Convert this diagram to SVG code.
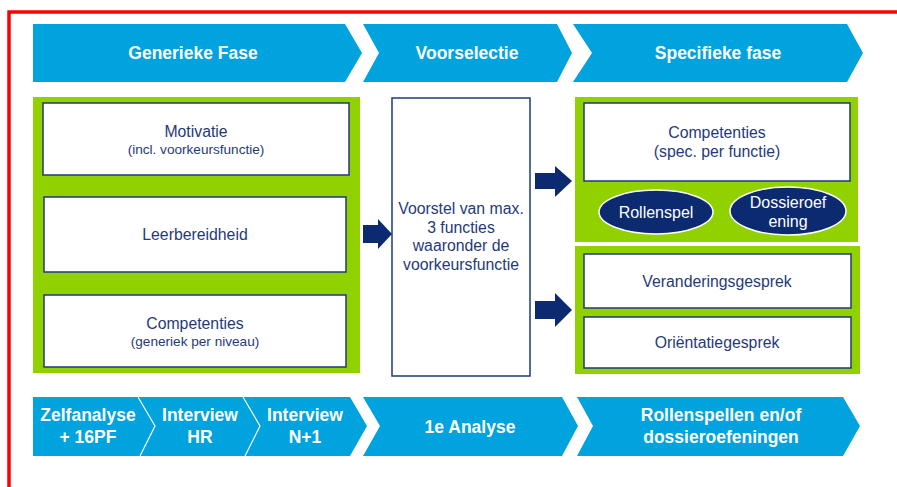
<svg xmlns="http://www.w3.org/2000/svg" width="897" height="487" viewBox="0 0 897 487">
<style>
.chev{fill:#00A3DD}
.ct{font-family:"Liberation Sans",Arial,sans-serif;font-weight:bold;font-size:17.5px;fill:#fff;text-anchor:middle}
.green{fill:#92D100}
.box{fill:#fff;stroke:#1F3A7A;stroke-width:1.5}
.bt{font-family:"Liberation Sans",Arial,sans-serif;font-size:15.8px;fill:#1F3A7A;text-anchor:middle}
.bs{font-family:"Liberation Sans",Arial,sans-serif;font-size:13.6px;fill:#1F3A7A;text-anchor:middle}
.ell{fill:#0B2A6F;stroke:#fff;stroke-width:1.5}
.et{font-family:"Liberation Sans",Arial,sans-serif;font-size:16px;fill:#fff;text-anchor:middle}
.arr{fill:#0B2A6F}
.div{fill:none;stroke:#fff;stroke-width:1.2}
</style>
<rect width="897" height="487" fill="#fff"/>
<path d="M9 487 V12 H897" fill="none" stroke="#FF0000" stroke-width="3.5"/>

<g id="top-generieke">
<polygon class="chev" points="33,24 345,24 362,53 345,82 33,82"/>
<text class="ct" x="193" y="59">Generieke Fase</text>
</g>
<g id="top-voorselectie">
<polygon class="chev" points="363,24 557,24 572,53 557,82 363,82 379,53"/>
<text class="ct" x="467" y="59">Voorselectie</text>
</g>
<g id="top-specifieke">
<polygon class="chev" points="573,24 847,24 863,53 847,82 573,82 592,53"/>
<text class="ct" x="718" y="59">Specifieke fase</text>
</g>

<g id="generieke-panel">
<rect class="green" x="33" y="97" width="327" height="276"/>
</g>
<g id="motivatie">
<rect class="box" x="43" y="103" width="306" height="72"/>
<text class="bt" x="196" y="137">Motivatie</text>
<text class="bs" x="196" y="154">(incl. voorkeursfunctie)</text>
</g>
<g id="leerbereidheid">
<rect class="box" x="44" y="197" width="302" height="75"/>
<text class="bt" x="195" y="240">Leerbereidheid</text>
</g>
<g id="competenties-gen">
<rect class="box" x="44" y="295" width="302" height="72"/>
<text class="bt" x="195" y="329">Competenties</text>
<text class="bs" x="195" y="346">(generiek  per niveau)</text>
</g>

<g id="voorstel">
<rect class="box" x="392" y="98" width="138" height="278"/>
<text class="bt" x="461" y="214">Voorstel van max.</text>
<text class="bt" x="461" y="233">3 functies</text>
<text class="bt" x="461" y="251">waaronder de</text>
<text class="bt" x="461" y="270">voorkeursfunctie</text>
</g>

<g id="specifiek-panel-top">
<rect class="green" x="575" y="97" width="283" height="145"/>
</g>
<g id="competenties-spec">
<rect class="box" x="584" y="103" width="266" height="78"/>
<text class="bt" x="717" y="138">Competenties</text>
<text class="bt" x="717" y="157">(spec. per functie)</text>
</g>
<g id="rollenspel">
<ellipse class="ell" cx="656" cy="212" rx="57" ry="22"/>
<text class="et" x="656" y="218">Rollenspel</text>
</g>
<g id="dossieroefening">
<ellipse class="ell" cx="788" cy="211" rx="58" ry="24"/>
<text class="et" x="788" y="208">Dossieroef</text>
<text class="et" x="788" y="227">ening</text>
</g>

<g id="specifiek-panel-bottom">
<rect class="green" x="575" y="246" width="285" height="128"/>
</g>
<g id="veranderingsgesprek">
<rect class="box" x="584" y="254" width="267" height="54"/>
<text class="bt" x="717" y="287">Veranderingsgesprek</text>
</g>
<g id="orientatiegesprek">
<rect class="box" x="584" y="317" width="267" height="51"/>
<text class="bt" x="717" y="348">Oriëntatiegesprek</text>
</g>

<g id="connectors">
<polygon class="arr" points="363,225 378,225 378,219 392,234 378,249 378,243 363,243"/>
<polygon class="arr" points="535,173 555,173 555,166 572,181 555,197 555,189 535,189"/>
<polygon class="arr" points="535,301 555,301 555,293 572,310 555,327 555,319 535,319"/>
</g>

<g id="bottom-zelf-interview">
<polygon class="chev" points="33,397 350,397 367,426 350,456 33,456"/>
<polyline class="div" points="138,397 155,426 140,456"/>
<polyline class="div" points="243,397 260,426 245,456"/>
<text class="ct" x="88" y="421">Zelfanalyse</text>
<text class="ct" x="88" y="443">+ 16PF</text>
<text class="ct" x="200" y="421">Interview</text>
<text class="ct" x="200" y="443">HR</text>
<text class="ct" x="305" y="421">Interview</text>
<text class="ct" x="305" y="443">N+1</text>
</g>
<g id="bottom-analyse">
<polygon class="chev" points="363,397 562,397 578,426 562,456 363,456 380,426"/>
<text class="ct" x="470" y="433">1e Analyse</text>
</g>
<g id="bottom-rollenspellen">
<polygon class="chev" points="577,397 843,397 860,426 843,456 577,456 593,426"/>
<text class="ct" x="721" y="421">Rollenspellen en/of</text>
<text class="ct" x="721" y="443">dossieroefeningen</text>
</g>
</svg>
